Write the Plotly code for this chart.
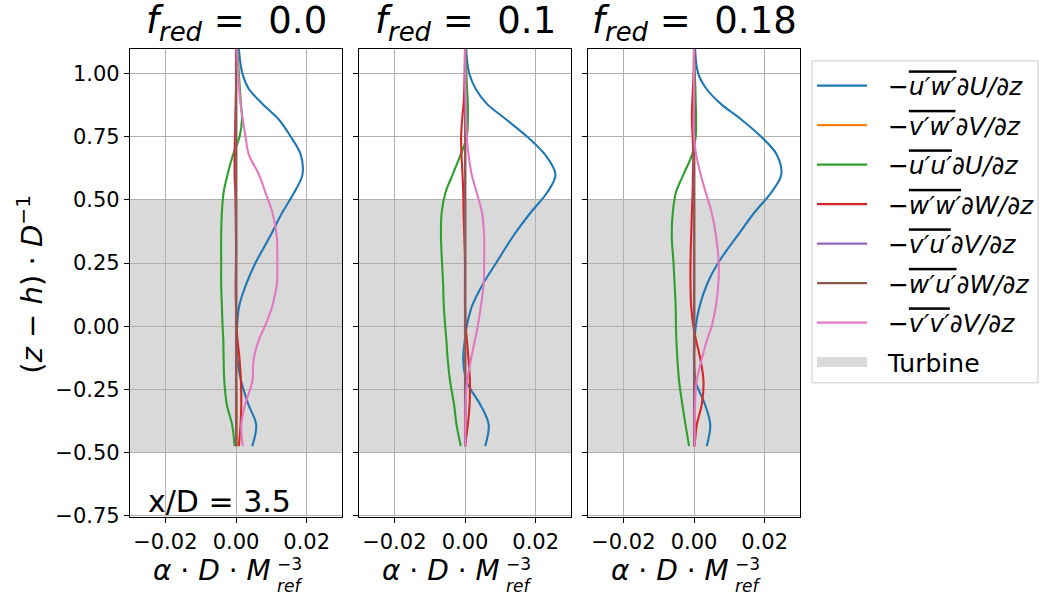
import plotly.graph_objects as go

# ---------------- data ----------------
z = [-0.475, -0.39, -0.31, -0.22, -0.13, -0.05, 0.0, 0.08, 0.17, 0.25, 0.36,
     0.45, 0.53, 0.6, 0.68, 0.75, 0.82, 0.88, 0.94, 1.0, 1.1]

f_red = ["0.0", "0.1", "0.18"]

# f_red = 0.0
uw_0 = [0.0046, 0.0057, 0.0035, 0.0015, 0.0004, 0.0002, 0.0003, 0.0009, 0.0030, 0.0055, 0.0098,
        0.0131, 0.0165, 0.0188, 0.0183, 0.0155, 0.0120, 0.0075, 0.0036, 0.0018, 0.0008]
vw_0 = [0.0002, 0.0002, 0.0002, 0.0001, 0.0001, 0.0001, 0.0, 0.0, 0.0, 0.0, 0.0,
        0.0, 0.0, 0.0, 0.0, 0.0, 0.0, 0.0, 0.0, 0.0, 0.0]
uu_0 = [-0.0004, -0.0011, -0.0026, -0.0033, -0.0035, -0.0036, -0.0038, -0.0040, -0.0042, -0.0042, -0.0042,
        -0.0040, -0.0035, -0.0024, -0.0008, 0.0010, 0.0017, 0.0014, 0.0011, 0.0008, 0.0004]
ww_0 = [0.0008, 0.0013, 0.0015, 0.0014, 0.0010, 0.0004, 0.0002, 0.0, -0.0001, 0.0, 0.0,
        -0.0001, -0.0002, -0.0004, -0.0004, -0.0003, -0.0002, -0.0001, 0.0, 0.0, 0.0]
vu_0 = [0.0] * 21
wu_0 = [0.0001] * 21
vv_0 = [0.0019, 0.0015, 0.0026, 0.0046, 0.0050, 0.0066, 0.0082, 0.0103, 0.0116, 0.0117, 0.0115,
        0.0103, 0.0083, 0.0065, 0.0036, 0.0027, 0.0019, 0.0013, 0.0009, 0.0006, 0.0003]

# f_red = 0.1
uw_1 = [0.0057, 0.0067, 0.0043, 0.0005, -0.0005, 0.0000, 0.0005, 0.0020, 0.0052, 0.0088, 0.0138,
        0.0186, 0.0233, 0.0256, 0.0226, 0.0176, 0.0115, 0.0062, 0.0030, 0.0012, 0.0003]
vw_1 = [0.0001, 0.0001, 0.0001, 0.0001, 0.0, 0.0, 0.0, 0.0, 0.0, 0.0, 0.0,
        0.0, 0.0, 0.0, 0.0, 0.0, 0.0, 0.0, 0.0, 0.0, 0.0]
uu_1 = [-0.0012, -0.0024, -0.0031, -0.0042, -0.0049, -0.0053, -0.0056, -0.0060, -0.0062, -0.0065, -0.0068,
        -0.0066, -0.0055, -0.0035, -0.0012, 0.0005, 0.0008, 0.0008, 0.0006, 0.0004, 0.0001]
ww_1 = [0.0000, 0.0008, 0.0013, 0.0014, 0.0010, 0.0005, 0.0002, 0.0, 0.0, 0.0, -0.0002,
        -0.0004, -0.0005, -0.0007, -0.0010, -0.0011, -0.0008, -0.0004, -0.0002, -0.0001, 0.0]
vu_1 = [0.0] * 21
wu_1 = [0.0001] * 21
vv_1 = [0.0001, 0.0001, 0.0002, 0.0006, 0.0017, 0.0029, 0.0036, 0.0045, 0.0053, 0.0054, 0.0054,
        0.0048, 0.0033, 0.0019, 0.0010, 0.0005, 0.0003, 0.0002, 0.0001, 0.0001, 0.0]

# f_red = 0.18
uw_2 = [0.0036, 0.0046, 0.0031, 0.0005, 0.0000, 0.0002, 0.0005, 0.0016, 0.0038, 0.0068, 0.0124,
        0.0171, 0.0219, 0.0247, 0.0234, 0.0190, 0.0132, 0.0076, 0.0035, 0.0012, 0.0003]
vw_2 = [0.0001, 0.0001, 0.0001, 0.0001, 0.0, 0.0, 0.0, 0.0, 0.0, 0.0, 0.0,
        0.0, 0.0, 0.0, 0.0, 0.0, 0.0, 0.0, 0.0, 0.0, 0.0]
uu_2 = [-0.0014, -0.0024, -0.0033, -0.0042, -0.0047, -0.0050, -0.0051, -0.0052, -0.0055, -0.0058, -0.0063,
        -0.0060, -0.0051, -0.0030, -0.0005, 0.0005, 0.0006, 0.0005, 0.0004, 0.0002, 0.0]
ww_2 = [0.0002, 0.0008, 0.0022, 0.0027, 0.0018, 0.0005, -0.0002, -0.0008, -0.0010, -0.0010, -0.0008,
        -0.0006, -0.0004, -0.0003, -0.0002, -0.0004, -0.0006, -0.0005, -0.0003, -0.0001, 0.0]
vu_2 = [0.0] * 21
wu_2 = [0.0001] * 21
vv_2 = [0.0002, 0.0002, 0.0003, 0.0007, 0.0022, 0.0038, 0.0050, 0.0062, 0.0069, 0.0070, 0.0062,
        0.0050, 0.0033, 0.0019, 0.0006, 0.0000, -0.0001, 0.0, 0.0, 0.0, 0.0]

panels = [
    [uw_0, vw_0, uu_0, ww_0, vu_0, wu_0, vv_0],
    [uw_1, vw_1, uu_1, ww_1, vu_1, wu_1, vv_1],
    [uw_2, vw_2, uu_2, ww_2, vu_2, wu_2, vv_2],
]

OL = '<span style="text-decoration:overline">'
PRE = "&#160;&#160;−"
series_names = [
    PRE + OL + "<i>u′w′</i></span><i>∂U/∂z</i>",
    PRE + OL + "<i>v′w′</i></span><i>∂V/∂z</i>",
    PRE + OL + "<i>u′u′</i></span><i>∂U/∂z</i>",
    PRE + OL + "<i>w′w′</i></span><i>∂W/∂z</i>",
    PRE + OL + "<i>v′u′</i></span><i>∂V/∂z</i>",
    PRE + OL + "<i>w′u′</i></span><i>∂W/∂z</i>",
    PRE + OL + "<i>v′v′</i></span><i>∂V/∂z</i>",
]
colors = ["#1f77b4", "#ff7f0e", "#2ca02c", "#d62728", "#9467bd", "#8c564b", "#e377c2"]

turbine_bottom, turbine_top = -0.5, 0.5
x_range = [-0.03, 0.03]
y_range = [-0.757, 1.097]
x_ticks = [-0.02, 0.0, 0.02]
y_ticks = [-0.75, -0.5, -0.25, 0.0, 0.25, 0.5, 0.75, 1.0]

# ---------------- layout helpers ----------------
W, H = 1040, 602
FONT = "DejaVu Sans"
xdom_px = [(130, 342), (359, 571), (588, 800)]
ytop_px, ybot_px = 50, 527


def py(v):
    return 1 - v / H


ydom = [py(ybot_px), py(ytop_px)]

fig = go.Figure()

for p, data in enumerate(panels):
    xa = "x" if p == 0 else f"x{p+1}"
    ya = "y" if p == 0 else f"y{p+1}"
    for s, vals in enumerate(data):
        fig.add_trace(go.Scatter(
            x=vals, y=z, mode="lines", name=series_names[s],
            line=dict(color=colors[s], width=2.1, shape="spline", smoothing=1.0),
            xaxis=xa, yaxis=ya, legendgroup=f"g{s}", showlegend=(p == 0),
        ))
    fig.add_shape(type="rect", xref=f"{xa} domain", yref=ya, x0=0, x1=1,
                  y0=turbine_bottom, y1=turbine_top, fillcolor="#d9d9d9",
                  line=dict(width=0), layer="below")

# legend entry for turbine region
fig.add_trace(go.Scatter(x=[None], y=[None], mode="lines", name="&#160;&#160;Turbine",
                         line=dict(color="#d9d9d9", width=18), legendgroup="turb"))

# legend frame
fig.add_shape(type="rect", xref="paper", yref="paper", x0=812 / W, x1=1038 / W,
              y0=py(390), y1=py(62), fillcolor="white",
              line=dict(color="#cccccc", width=1), layer="below")

axis_common = dict(showline=True, linecolor="black", linewidth=1.2, mirror=True,
                   ticks="outside", ticklen=5, tickcolor="black", tickwidth=1.2,
                   showgrid=True, gridcolor="#b0b0b0", gridwidth=1, zeroline=False,
                   tickfont=dict(family=FONT, size=21, color="black"))

layout = dict(
    width=W, height=H, margin=dict(l=0, r=0, t=0, b=0),
    paper_bgcolor="white", plot_bgcolor="white",
    font=dict(family=FONT, color="black"),
)
for p in range(3):
    sx = "" if p == 0 else str(p + 1)
    layout[f"xaxis{sx}"] = dict(axis_common, domain=[xdom_px[p][0] / W, xdom_px[p][1] / W],
                                range=x_range, tickvals=x_ticks, tickformat=".2f",
                                anchor="y" + sx)
    layout[f"yaxis{sx}"] = dict(axis_common, domain=ydom, range=y_range, tickvals=y_ticks,
                                tickformat=".2f", anchor="x" + sx,
                                showticklabels=(p == 0))
fig.update_layout(**layout)

fig.update_layout(legend=dict(
    x=812 / W, y=py(64), xanchor="left", yanchor="top",
    bgcolor="rgba(0,0,0,0)", borderwidth=0,
    font=dict(family=FONT, size=25, color="black"),
    tracegroupgap=4, traceorder="grouped", itemwidth=50,
))

ann = []
for p in range(3):
    cx = (xdom_px[p][0] + xdom_px[p][1]) / 2
    ann.append(dict(text=f"<i>f</i><sub><i>red</i></sub> = &#160;{f_red[p]}",
                    x=cx / W, y=py(50), xref="paper", yref="paper",
                    xanchor="center", yanchor="bottom", showarrow=False,
                    font=dict(family=FONT, size=37, color="black")))
    ann.append(dict(text="<i>α</i> · <i>D</i> · <i>M</i>",
                    x=(cx + 37) / W, y=py(581), xref="paper", yref="paper",
                    xanchor="right", yanchor="middle", showarrow=False,
                    font=dict(family=FONT, size=28, color="black")))
    ann.append(dict(text="−3<br><i>ref</i>",
                    x=(cx + 39) / W, y=py(586), xref="paper", yref="paper",
                    xanchor="left", yanchor="middle", align="left", showarrow=False,
                    font=dict(family=FONT, size=17, color="black")))

ann.append(dict(text="(<i>z</i> − <i>h</i>) · <i>D</i><sup>−1</sup>", textangle=-90,
                x=30 / W, y=py(290), xref="paper", yref="paper",
                xanchor="center", yanchor="middle", showarrow=False,
                font=dict(family=FONT, size=29, color="black")))
ann.append(dict(text="x/D = 3.5", x=146 / W, y=py(531), xref="paper", yref="paper",
                xanchor="left", yanchor="bottom", showarrow=False,
                font=dict(family=FONT, size=30, color="black")))
fig.update_layout(annotations=ann)

fig.write_html("out.html", config={"displayModeBar": False},
               post_script="document.body.style.margin='0';")
